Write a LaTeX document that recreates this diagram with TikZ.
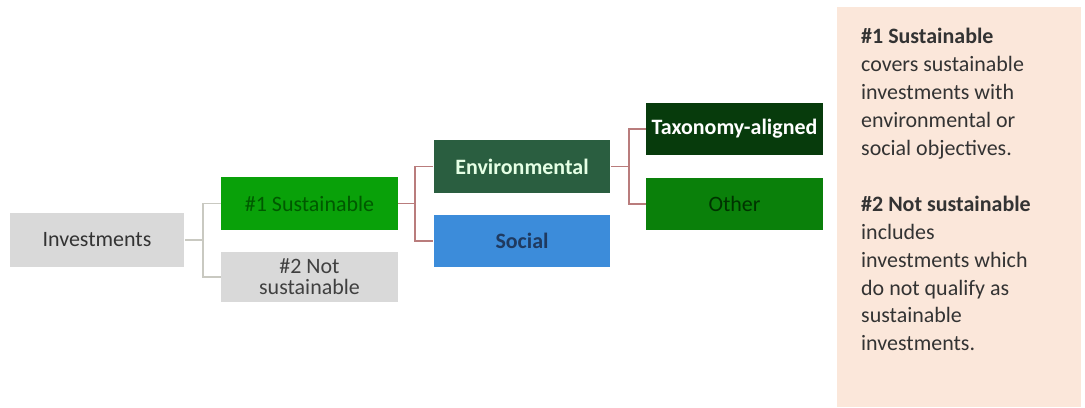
\documentclass[tikz,border=0pt]{standalone}
\usepackage{fontspec}
\setmainfont{Carlito}
\usepackage{tikz}
\usetikzlibrary{arrows}
\definecolor{boxgray}{HTML}{D9D9D9}
\definecolor{sustgreen}{HTML}{09A109}
\definecolor{envgreen}{HTML}{2A5E40}
\definecolor{socblue}{HTML}{3C8CDA}
\definecolor{soctext}{HTML}{1F3A60}
\definecolor{taxgreen}{HTML}{073B0C}
\definecolor{othgreen}{HTML}{0A800A}
\definecolor{panelpeach}{HTML}{FBE7DA}
\definecolor{linegray}{HTML}{C9C9C1}
\definecolor{linered}{HTML}{B97C7C}
\tikzset{
  box_/.style   = {shape=rectangle, align=center, minimum width=3.54cm,
                   minimum height=1.05cm, inner sep=2pt},
  gray_/.style  = {box_, fill=boxgray, text=black!80},
  link_/.style  = {draw=linered, line width=0.7pt},
  link0_/.style = {draw=linegray, line width=0.7pt}
}

\begin{document}
\begin{tikzpicture}
  [
    x                 = 0.02cm,
    y                 = -0.02cm,
    every node/.style = {font=\fontsize{12.5}{14}\selectfont}
  ]
  \useasboundingbox (0,0) rectangle (1085,407);
  \fill [panelpeach] (837,7) rectangle (1081,407);

  \node [gray_, minimum width=3.5cm, minimum height=1.08cm] (inv) at (97,240) {Investments};
  \node [box_, fill=sustgreen, text=green!35!black] (sust) at (309.5,203.5) {\#1 Sustainable};
  \node [gray_, minimum height=1cm, text=black!75] (notsust) at (309.5,277) {\#2 Not\\[-2pt]sustainable};
  \node [box_, fill=envgreen, text=white!90!green, font=\fontsize{12.5}{14}\selectfont\bfseries] (env) at (522,166.5) {Environmental};
  \node [box_, fill=socblue, text=soctext, font=\fontsize{12.5}{14}\selectfont\bfseries] (soc) at (522,241) {Social};
  \node [box_, fill=taxgreen, text=white, font=\fontsize{12.5}{14}\selectfont\bfseries] (tax) at (734.5,129) {Taxonomy-aligned};
  \node [box_, fill=othgreen, text=green!20!black] (oth) at (734.5,204) {Other};

  \coordinate (b1) at (203,240);
  \coordinate (b2) at (415,203.5);
  \coordinate (b3) at (629,166.5);
  \draw [link0_] (inv.east) -- (b1) (sust.west) -| (b1) |- (notsust.west);
  \draw [link_] (sust.east) -- (b2) (env.west) -| (b2) |- (soc.west);
  \draw [link_] (env.east) -- (b3) (tax.west) -| (b3) |- (oth.west);

  \node [anchor=north west, align=left, text=black!80,
         font=\fontsize{12.5}{15.9}\selectfont] (legend) at (855,22)
    {\textbf{\#1 Sustainable}\\
     covers sustainable\\
     investments with\\
     environmental or\\
     social objectives.\\[15.9pt]
     \textbf{\#2 Not sustainable}\\
     includes\\
     investments which\\
     do not qualify as\\
     sustainable\\
     investments.};
\end{tikzpicture}
\end{document}
